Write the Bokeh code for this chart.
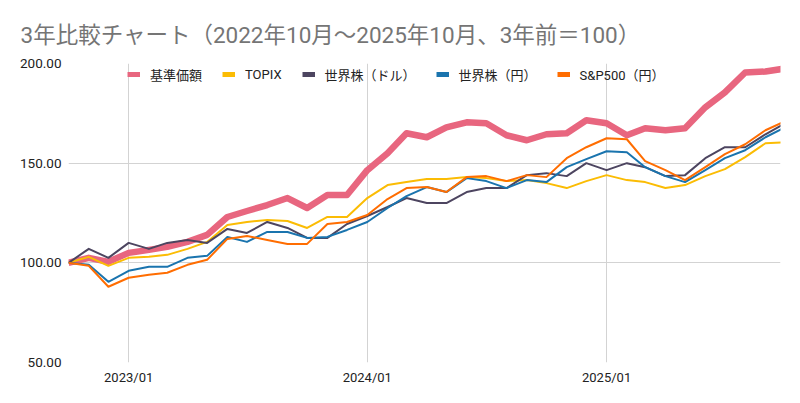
import pandas as pd
from bokeh.plotting import figure
from bokeh.models import (Range1d, FixedTicker, DatetimeTickFormatter, PrintfTickFormatter,
                          Legend, LegendItem, ColumnDataSource)
from bokeh.embed import file_html
from bokeh.resources import INLINE

# ---- data ----
months = pd.date_range("2022-10-01", periods=37, freq="MS")

kijun = [100, 102.5, 100.5, 105, 106.5, 108, 110.5, 114, 123, 126, 129, 132.5, 127.5, 134, 134,
         146.5, 155, 165, 163, 168, 170.5, 170, 164, 161.5, 164.5, 165, 171.5, 170, 164,
         167.5, 166.5, 167.5, 178, 185.5, 195.5, 196, 197.5]
topix = [100, 103, 98.5, 102.5, 103, 104, 107, 110.5, 119, 120.5, 121.5, 121, 117.5, 123, 123,
         132.5, 139, 140.5, 142, 142, 143, 142.5, 141, 141.5, 140, 137.5, 141, 144, 141.5,
         140.5, 137.5, 139, 143.5, 147, 153, 160, 160.5]
world_usd = [100, 107, 102.5, 110, 107, 110, 111.5, 110, 117, 115, 120.5, 117.5, 112.5, 112.5, 119.5,
             123.5, 128, 132.5, 130, 130, 135.5, 137.5, 137.5, 144, 145, 143.5, 150, 146.5, 150,
             148, 143.5, 144, 152.5, 158, 158, 164.5, 170]
world_jpy = [100, 99, 90.5, 96, 98, 98, 102.5, 103.5, 113, 110.5, 115.5, 115.5, 112.5, 113, 116.5,
             120.5, 127.5, 133.5, 138, 135.5, 142.5, 141, 137.5, 141.5, 140.5, 148, 152, 156, 155.5,
             148, 143.5, 140.5, 146.5, 152.5, 156.5, 163, 168]
sp500_jpy = [100, 98.5, 88, 92.5, 94, 95, 99, 101.5, 112, 113.5, 111.5, 109.5, 109.5, 119.5, 120.5,
             124, 132, 137.5, 138, 135.5, 143, 143.5, 141, 144, 143, 152.5, 158, 162.5, 162,
             151, 146.5, 141.5, 148, 154.5, 159.5, 166.5, 171]

series_names = ["基準価額", "TOPIX", "世界株（ドル）", "世界株（円）", "S&P500（円）"]
series_values = [kijun, topix, world_usd, world_jpy, sp500_jpy]
series_colors = ["#E8667F", "#FBBC04", "#4D4560", "#1A74AE", "#FF6D01"]
series_widths = [6.5, 2, 2, 2, 2]

y_ticks = [50, 100, 150, 200]
x_tick_dates = ["2023-01-01", "2024-01-01", "2025-01-01"]

FONT = "Roboto, 'Noto Sans CJK JP', sans-serif"

p = figure(width=784, height=387, output_backend="svg", toolbar_location=None,
           x_axis_type="datetime",
           x_range=Range1d(pd.Timestamp("2022-10-01"), pd.Timestamp("2025-09-24")),
           y_range=Range1d(50, 200),
           min_border_left=68, min_border_right=4, min_border_bottom=24, min_border_top=63)

p.title.text = "3年比較チャート（2022年10月～2025年10月、3年前＝100）"
p.title.align = "left"
p.title.offset = -48
p.title.text_font = FONT
p.title.text_font_size = "22.5px"
p.title.text_font_style = "normal"
p.title.text_color = "#757575"
p.title.standoff = 32

p.outline_line_color = None
p.background_fill_color = "white"
p.border_fill_color = "white"

# axes
p.yaxis.ticker = FixedTicker(ticks=y_ticks)
p.yaxis.formatter = PrintfTickFormatter(format="%.2f")
p.yaxis.axis_line_color = None
p.yaxis.major_tick_line_color = None
p.yaxis.minor_tick_line_color = None
p.yaxis.major_tick_out = 0
p.yaxis.major_tick_in = 0
p.yaxis.minor_tick_out = 0
p.yaxis.major_label_standoff = 7
p.yaxis.major_label_text_font = FONT
p.yaxis.major_label_text_font_size = "13.5px"
p.yaxis.major_label_text_color = "#222222"

xt = [pd.Timestamp(d).value / 1e6 for d in x_tick_dates]
p.xaxis.ticker = FixedTicker(ticks=xt)
p.xaxis.formatter = DatetimeTickFormatter(years="%Y/%m", months="%Y/%m", days="%Y/%m",
                                          hours="%Y/%m", minutes="%Y/%m", seconds="%Y/%m")
p.xaxis.axis_line_color = None
p.xaxis.major_tick_line_color = None
p.xaxis.minor_tick_line_color = None
p.xaxis.major_tick_out = 0
p.xaxis.major_tick_in = 0
p.xaxis.minor_tick_out = 0
p.xaxis.major_label_standoff = 7
p.xaxis.major_label_text_font = FONT
p.xaxis.major_label_text_font_size = "13px"
p.xaxis.major_label_text_color = "#222222"

p.xgrid.ticker = FixedTicker(ticks=xt)
p.ygrid.ticker = FixedTicker(ticks=y_ticks)
p.xgrid.grid_line_color = "#D3D3D3"
p.ygrid.grid_line_color = "#D3D3D3"

items = []
for name, vals, col, w in zip(series_names, series_values, series_colors, series_widths):
    src = ColumnDataSource(dict(x=months, y=vals))
    p.line("x", "y", source=src, line_color=col, line_width=w, line_join="round")
    # legend-only swatch renderer (single NaN point: draws nothing in the plot)
    dummy = p.line(x=months[:1], y=[float("nan")], line_color=col, line_width=5)
    items.append(LegendItem(label=name, renderers=[dummy]))

legend = Legend(items=items, orientation="horizontal", location=(59, 278),
                glyph_width=13, glyph_height=20, label_height=20, label_standoff=10, spacing=20,
                padding=0, margin=0, border_line_color=None, background_fill_alpha=0,
                label_text_font=FONT, label_text_font_size="13px", label_text_color="#222222")
p.add_layout(legend, "center")

open("out.html", "w").write(file_html(p, INLINE))
